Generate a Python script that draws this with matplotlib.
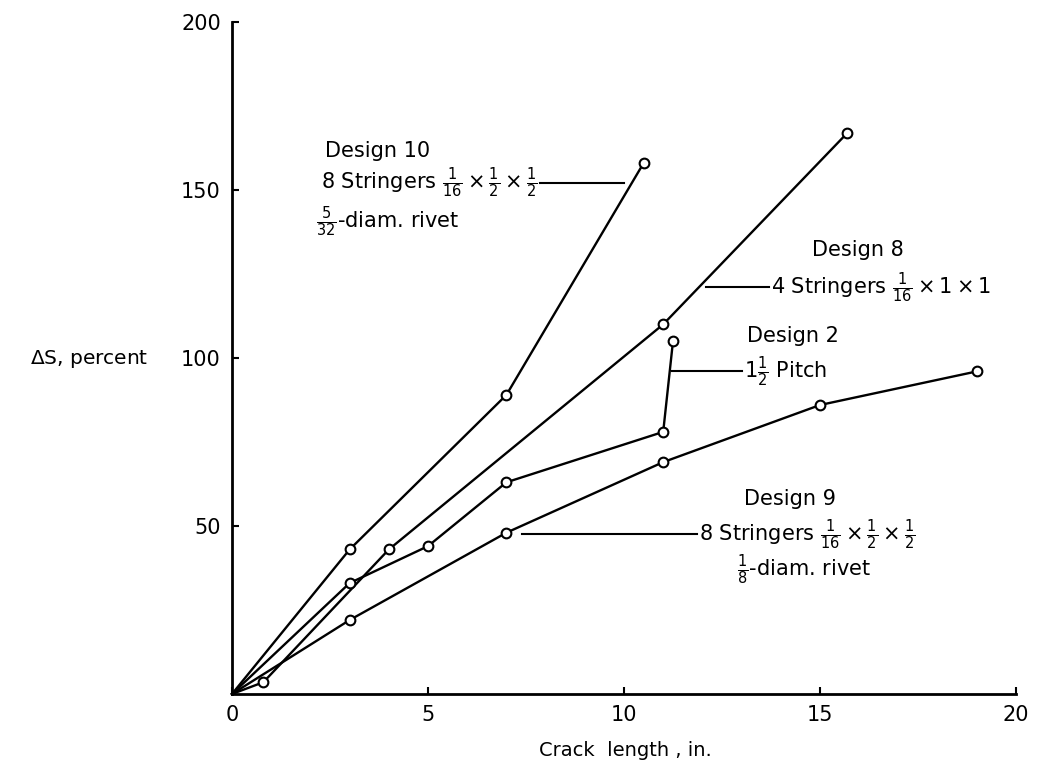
import matplotlib
matplotlib.use("Agg")
import matplotlib.pyplot as plt

plt.rcParams['font.family'] = ['DejaVu Sans']
plt.rcParams['mathtext.fontset'] = 'dejavusans'

# Data (crack length in., delta S percent)
x_d10 = [0, 3, 7, 10.5]
y_d10 = [0, 43, 89, 158]
x_d8 = [0, 0.8, 4, 11, 15.7]
y_d8 = [0, 3.5, 43, 110, 167]
x_d2 = [0, 3, 5, 7, 11, 11.25]
y_d2 = [0, 33, 44, 63, 78, 105]
x_d9 = [0, 3, 7, 11, 15, 19]
y_d9 = [0, 22, 48, 69, 86, 96]

x_ticks = [0, 5, 10, 15, 20]
y_ticks = [50, 100, 150, 200]

fig = plt.figure(figsize=(10.4, 7.76), dpi=100)
ax = fig.add_axes([0.2231, 0.1057, 0.7538, 0.866])

lw = 1.7
mk = dict(marker='o', markersize=7, markerfacecolor='white',
          markeredgecolor='black', markeredgewidth=1.5)
for xs, ys in [(x_d10, y_d10), (x_d8, y_d8), (x_d2, y_d2), (x_d9, y_d9)]:
    ax.plot(xs, ys, color='black', lw=lw, markevery=slice(1, None),
            clip_on=False, zorder=3, **mk)

ax.set_xlim(0, 20)
ax.set_ylim(0, 200)
for s in ['top', 'right']:
    ax.spines[s].set_visible(False)
for s in ['left', 'bottom']:
    ax.spines[s].set_linewidth(2)
ax.set_xticks(x_ticks)
ax.set_yticks(y_ticks)
ax.tick_params(direction='in', length=5, width=1.5, labelsize=15, pad=8)

# leader lines (annotation pointers)
leaders = [((7.85, 152), (10.0, 152)),
           ((12.1, 121), (13.7, 121)),
           ((11.22, 96), (13.0, 96)),
           ((7.4, 47.5), (11.85, 47.5))]
for (xa, ya), (xb, yb) in leaders:
    ax.plot([xa, xb], [ya, yb], color='black', lw=1.5, zorder=2)

fs = 15
ax.text(3.72, 161.5, 'Design 10', ha='center', va='center', fontsize=fs)
ax.text(7.8, 152, r'8 Stringers $\frac{1}{16}\times\frac{1}{2}\times\frac{1}{2}$',
        ha='right', va='center', fontsize=fs)
ax.text(3.98, 140.5, r'$\frac{5}{32}$-diam. rivet', ha='center', va='center', fontsize=fs)

ax.text(15.97, 132, 'Design 8', ha='center', va='center', fontsize=fs)
ax.text(13.75, 121, r'4 Stringers $\frac{1}{16}\times1\times1$',
        ha='left', va='center', fontsize=fs)

ax.text(14.3, 106.5, 'Design 2', ha='center', va='center', fontsize=fs)
ax.text(13.05, 96, r'1$\frac{1}{2}$ Pitch', ha='left', va='center', fontsize=fs)

ax.text(14.23, 58, 'Design 9', ha='center', va='center', fontsize=fs)
ax.text(11.92, 47.5, r'8 Stringers $\frac{1}{16}\times\frac{1}{2}\times\frac{1}{2}$',
        ha='left', va='center', fontsize=fs)
ax.text(14.6, 37, r'$\frac{1}{8}$-diam. rivet', ha='center', va='center', fontsize=fs)

fig.text(30 / 1040, 1 - 359 / 776, r'$\Delta$S, percent', ha='left', va='center', fontsize=14.5)
fig.text(625 / 1040, 1 - 750 / 776, 'Crack  length , in.', ha='center', va='center', fontsize=14)

fig.savefig('out.png', dpi=100)
